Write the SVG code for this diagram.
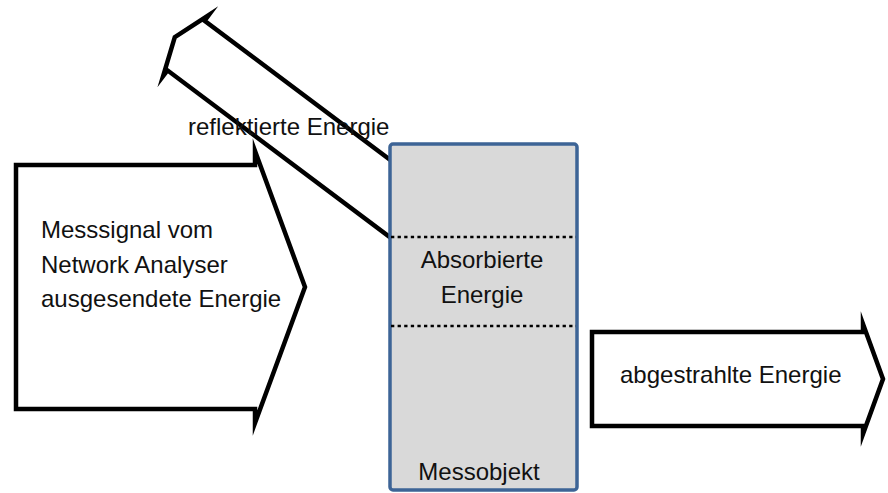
<svg xmlns="http://www.w3.org/2000/svg" width="888" height="493" viewBox="0 0 888 493">
<style>
.arrow{fill:#ffffff;stroke:#000000;stroke-width:4.5;stroke-linejoin:miter;stroke-miterlimit:12}
.obj{fill:#d9d9d9;stroke:#3d6496;stroke-width:3.5}
.dot{stroke:#000000;stroke-width:2.5;stroke-dasharray:3.3 3.3;fill:none}
.t{font-family:"Liberation Sans",Arial,sans-serif;font-size:24px;fill:#111111}
.c{text-anchor:middle}
</style>
<rect width="888" height="493" fill="#ffffff"/>
<g id="connectors">
<g id="arrow-in">
<polygon class="arrow" points="16,165 255,165 255,151 305,287 255,423 255,409 16,409"/>
</g>
<g id="arrow-out">
<polygon class="arrow" points="592,332 863,332 863,324 883,379 863,434 863,426 592,426"/>
</g>
<g id="arrow-reflected">
<polygon class="arrow" points="204.6,20.7 208.8,15.1 174.8,37.1 163.2,75.9 167.4,70.3 407.4,250.3 444.6,200.7"/>
</g>
</g>
<g id="messobjekt">
<rect class="obj" x="390" y="144" width="187" height="346" rx="3"/>
<line class="dot" x1="391" y1="237" x2="576" y2="237"/>
<line class="dot" x1="391" y1="326" x2="576" y2="326"/>
<text class="t c" x="482" y="268">Absorbierte</text>
<text class="t c" x="482" y="303">Energie</text>
<text class="t c" x="479" y="480">Messobjekt</text>
</g>
<g id="label-in">
<text class="t" x="41" y="238">Messsignal vom</text>
<text class="t" x="41" y="273">Network Analyser</text>
<text class="t" x="41" y="307">ausgesendete Energie</text>
</g>
<g id="label-reflected">
<text class="t" x="188" y="135">reflektierte Energie</text>
</g>
<g id="label-out">
<text class="t" x="620" y="383">abgestrahlte Energie</text>
</g>
</svg>
